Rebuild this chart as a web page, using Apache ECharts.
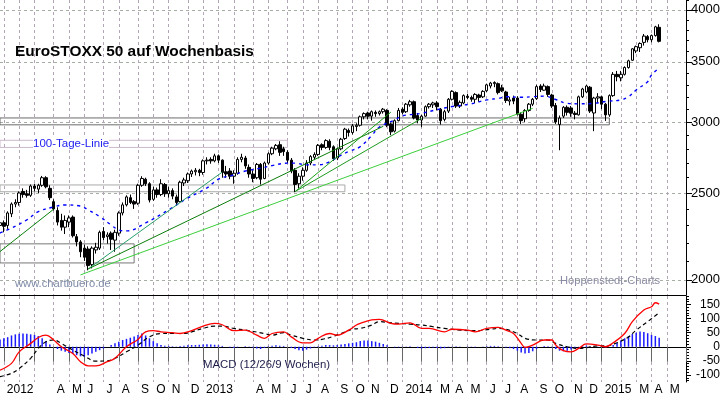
<!DOCTYPE html>
<html>
<head>
<meta charset="utf-8">
<script src="https://cdn.jsdelivr.net/npm/echarts@6/dist/echarts.min.js"></script>
<style>
  html, body { margin: 0; padding: 0; background: #fff; }
  #chart { width: 723px; height: 397px; }
</style>
</head>
<body>
<div id="chart"></div>
<script>
// Weekly candles, [open, close, low, high], one row per week (Fridays from 2011-12-30)
const candles2012 = [
  [2300,2316,2280,2330],[2316,2295,2260,2330],[2300,2375,2280,2385],[2370,2430,2350,2440],
  [2430,2440,2410,2460],[2440,2500,2420,2510],[2510,2490,2470,2530],[2495,2485,2470,2520],
  [2485,2545,2475,2555],[2545,2530,2510,2560],[2525,2550,2500,2560],[2550,2600,2540,2612],
  [2600,2540,2530,2610],[2530,2470,2455,2550],[2445,2400,2390,2460],[2390,2320,2300,2410],
  [2330,2290,2270,2370],[2290,2330,2250,2360],[2320,2345,2290,2360],[2350,2240,2230,2360],
  [2235,2205,2180,2250],[2205,2150,2120,2215],[2170,2120,2100,2190],[2165,2075,2050,2180],
  [2080,2170,2060,2180],[2160,2175,2140,2200],[2170,2260,2160,2270],[2265,2230,2215,2290],
  [2235,2245,2195,2260],[2255,2220,2160,2265],[2215,2260,2150,2275],[2255,2375,2240,2385],
  [2375,2425,2360,2440],[2425,2475,2415,2485],[2470,2440,2430,2490],[2445,2430,2400,2455],
  [2435,2550,2425,2560],[2550,2595,2540,2610],[2590,2560,2545,2600],[2560,2455,2440,2570],
  [2460,2520,2450,2540],[2520,2490,2470,2535],[2490,2560,2480,2590],[2555,2495,2475,2565],
  [2495,2515,2470,2540],[2515,2480,2460,2530],[2475,2440,2420,2490],[2445,2570,2440,2580],
  [2565,2585,2545,2600],[2580,2625,2565,2635],[2625,2645,2605,2655],[2640,2650,2615,2665],
  [2650,2635,2610,2660]
];
const candles2013 = [
  [2635,2715,2620,2725],[2715,2720,2690,2740],[2725,2715,2695,2740],[2715,2750,2705,2765],
  [2750,2720,2700,2760],[2720,2635,2600,2725],[2640,2625,2600,2680],[2645,2610,2590,2665],
  [2610,2630,2560,2650],[2630,2725,2620,2740],[2725,2740,2705,2765],[2735,2680,2660,2750],
  [2670,2625,2600,2690],[2625,2595,2570,2650],[2600,2690,2590,2700],[2690,2590,2555,2700],
  [2595,2700,2590,2710],[2700,2765,2690,2775],[2765,2805,2755,2815],[2800,2825,2790,2835],
  [2830,2775,2750,2855],[2800,2780,2750,2815],[2775,2720,2700,2790],[2720,2645,2630,2735],
  [2650,2555,2505,2665],[2560,2610,2530,2630],[2610,2650,2580,2670],[2650,2700,2640,2720],
  [2700,2745,2685,2755],[2740,2760,2720,2775],[2760,2825,2750,2835],[2830,2810,2790,2840],
  [2810,2860,2800,2870],[2855,2810,2790,2870],[2815,2730,2715,2825],[2735,2800,2720,2810],
  [2800,2870,2790,2880],[2875,2945,2865,2955],[2935,2920,2890,2950],[2920,2970,2905,2985],
  [2965,2975,2930,2990],[2975,3040,2965,3050],[3040,3065,3020,3075],[3070,3045,3020,3080],
  [3045,3080,3010,3090],[3075,3065,3040,3090],[3065,3080,3050,3090],[3080,3100,3065,3110],
  [3090,2975,2960,3100],[2985,2925,2900,2995],[2930,3010,2920,3020],[3010,3090,3005,3110]
];
const candles2014 = [
  [3100,3075,3060,3115],[3080,3140,3070,3150],[3135,3160,3120,3175],[3160,3030,3020,3170],
  [3050,3015,2990,3070],[3015,3045,2960,3055],[3045,3120,3040,3130],[3120,3140,3105,3150],
  [3135,3150,3110,3160],[3150,3120,3090,3165],[3100,3010,2980,3110],[3020,3080,3005,3095],
  [3085,3180,3070,3190],[3180,3245,3170,3255],[3235,3125,3110,3245],[3125,3155,3110,3170],
  [3150,3210,3140,3220],[3205,3195,3180,3225],[3195,3180,3160,3210],[3180,3220,3150,3230],
  [3215,3195,3160,3225],[3200,3245,3190,3255],[3250,3300,3240,3310],[3290,3315,3270,3325],
  [3310,3320,3280,3330],[3310,3235,3220,3320],[3275,3250,3240,3300],[3240,3170,3150,3250],
  [3165,3175,3130,3200],[3190,3165,3140,3210],[3190,3060,3050,3205],[3060,3010,2985,3075],
  [3025,3090,3000,3100],[3090,3140,3080,3150],[3140,3180,3125,3190],[3185,3285,3175,3300],
  [3290,3260,3240,3305],[3255,3290,3250,3310],[3285,3220,3200,3295],[3215,3125,3110,3225],
  [3130,3000,2985,3150],[2980,3030,2790,3050],[3045,3115,3030,3125],[3115,3075,3050,3130],
  [3110,3068,3040,3125],[3068,3058,3020,3085],[3055,3200,3050,3210],[3200,3265,3190,3275],
  [3240,3290,3230,3300],[3280,3085,3070,3290],[3070,3190,2930,3200],[3190,3200,3150,3230]
];
const candles2015 = [
  [3200,3140,3100,3210],[3140,3055,3008,3150],[3055,3210,3040,3220],[3210,3390,3200,3410],
  [3390,3370,3330,3420],[3360,3390,3330,3420],[3390,3450,3380,3460],[3450,3510,3440,3520],
  [3515,3620,3510,3625],[3600,3640,3580,3650],[3630,3670,3590,3680],[3680,3740,3650,3760],
  [3735,3705,3680,3750],[3705,3745,3680,3755],[3745,3830,3735,3840],[3825,3690,3680,3855]
];

// 100-day line (dashed blue), [week index, value]
const ma100 = [
  [0,2256],[3,2285],[7,2333],[10,2383],[14,2412],[17,2424],[21,2418],[23,2394],[26,2353],
  [29,2303],[31,2274],[33,2268],[38,2315],[44,2394],[49,2468],[54,2533],[57,2590],[61,2619],
  [64,2645],[68,2664],[71,2682],[75,2699],[77,2699],[80,2687],[83,2687],[86,2709],[89,2756],
  [91,2781],[94,2816],[97,2898],[99,2961],[103,3016],[105,3047],[110,3068],[114,3096],
  [118,3121],[123,3143],[127,3175],[130,3187],[132,3201],[136,3196],[139,3201],[142,3206],
  [145,3178],[148,3147],[151,3143],[155,3147],[158,3162],[162,3175],[164,3201],[166,3257],
  [169,3327],[170,3385],[172,3444]
];

// MACD (12/26/9) line and signal, [week index, value]
const macdLine = [
  [0,-83],[3,-59],[5,-18],[8,12],[10,33],[12,41],[14,24],[16,0],[19,-24],[21,-53],[23,-68],
  [25,-68],[28,-53],[30,-41],[33,0],[36,26],[38,53],[40,57],[42,53],[45,50],[47,47],[50,57],
  [53,73],[56,83],[58,78],[61,57],[64,59],[67,41],[69,30],[71,47],[74,53],[76,35],[79,14],
  [81,14],[83,30],[86,47],[88,41],[91,59],[93,77],[94,83],[97,95],[99,97],[102,83],[104,80],
  [107,85],[110,65],[112,65],[116,53],[118,62],[122,59],[124,53],[127,65],[130,69],[132,59],
  [134,47],[136,12],[137,-2],[139,6],[142,24],[144,24],[145,6],[147,-14],[149,-18],[151,-6],
  [153,10],[156,6],[158,0],[160,14],[163,47],[165,89],[168,130],[170,142],[171,156],[172,151]
];
const signalLine = [
  [0,-106],[3,-94],[5,-77],[8,-41],[10,-6],[12,18],[14,24],[16,12],[19,-12],[22,-33],[25,-51],
  [28,-50],[30,-41],[33,-18],[36,6],[39,35],[42,47],[45,47],[48,47],[50,53],[53,65],[56,73],
  [58,73],[61,65],[64,59],[69,47],[71,41],[74,50],[76,41],[79,30],[82,24],[84,26],[87,37],
  [89,47],[92,62],[94,65],[97,77],[99,89],[102,85],[104,83],[107,80],[110,77],[113,71],
  [116,65],[120,59],[124,57],[128,62],[130,65],[132,62],[135,47],[137,30],[140,24],[143,24],
  [145,12],[148,0],[151,-6],[153,-3],[156,3],[158,3],[161,14],[164,35],[166,59],[169,89],[172,121]
];
// MACD histogram, one value per week
const macdHist = [
  26,30,34,40,44,46,47,46,44,42,38,30,20,8,0,-8,-14,-18,-22,-26,-30,-34,-36,-30,-24,-18,-12,
  -6,0,6,12,18,24,28,32,36,42,47,40,30,20,12,6,4,3,2,1,3,4,5,6,6,7,
  8,9,8,7,5,3,0,-3,-4,-2,0,2,1,-3,-6,-8,-4,2,4,5,4,3,0,-4,-8,-12,-14,-10,-6,-2,2,4,6,6,5,6,
  8,10,12,14,16,20,22,22,20,18,14,10,5,0,-2,-2,
  -1,1,2,0,-4,-6,-5,-4,-3,-4,-6,-5,-2,1,2,1,0,1,-1,-2,0,1,2,3,3,2,0,-3,-5,-8,-14,-20,-24,-22,
  -16,-8,0,3,2,-2,-8,-14,-16,-14,-10,-6,-2,2,4,2,0,1,
  -1,-3,0,6,14,22,30,38,45,50,54,52,48,42,38,32
];

// Trend lines: [[week, value], [week, value]]
const trendLines = [
  [[0,2151],[14,2398]],
  [[23,2057],[58,2638]],
  [[23,2057],[100,2967]],
  [[21,2026],[139,3107]],
  [[77,2509],[102,3077]],
  [[77,2509],[110,3028]]
];
const trendColors = ['#0a800a', '#2a9d6a', '#0b7d0b', '#3ccf3c', '#16a016', '#1d9a1d'];

// Horizontal zones: [fromWeek, toWeek, low, high]
const zones = [
  [0, 159, 2978, 3031],
  [0, 90, 2508, 2552],
  [0, 35, 2089, 2194],
  [0, 75, 2810, 2862]
];
const zoneColors = ['#6c6c6c', '#a9a9a9', '#777777', '#cbb9cb'];

// Axis ticks and labels
const priceLabels = [2000, 2500, 3000, 3500, 4000];
const priceMinorTicks = [2000,2100,2200,2300,2400,2500,2600,2700,2800,2900,3000,3100,3200,3300,
  3400,3500,3600,3700,3800,3900,4000,4100];
const macdLabels = [-100, -50, 0, 50, 100, 150];
const macdMinorTicks = [-120,-110,-100,-90,-80,-70,-60,-50,-40,-30,-20,-10,0,10,20,30,40,50,60,70,
  80,90,100,110,120,130,140,150,160,170,180];
const monthLetters = ['', '', 'M', 'A', 'M', 'J', 'J', 'A', 'S', 'O', 'N', 'D'];
const hiddenMonthLabels = ['2012-03', '2013-03', '2015-06'];

// week categories (Fridays)
const weeks = [];
const start = Date.UTC(2011, 11, 30);
for (let i = 0; i < 180; i++) {
  weeks.push(new Date(start + i * 7 * 86400000).toISOString().slice(0, 10));
}
const candles = [...candles2012, ...candles2013, ...candles2014, ...candles2015];

const isMonthStart = (i) => i > 0 && weeks[i].slice(5, 7) !== weeks[i - 1].slice(5, 7);
const monthLabel = (value) => {
  if (hiddenMonthLabels.includes(value.slice(0, 7))) return '';
  const m = +value.slice(5, 7);
  return m === 1 ? value.slice(0, 4) : monthLetters[m - 1];
};

const FONT = '"Liberation Sans", Arial, sans-serif';
const vGrid = { show: true, interval: (i) => isMonthStart(i), lineStyle: { color: '#b3a6b6', type: [3, 3], width: 1 } };

const chart = echarts.init(document.getElementById('chart'));
chart.setOption({
  animation: false,
  backgroundColor: '#fff',
  textStyle: { fontFamily: FONT },
  grid: [
    { left: 0, right: 37, top: 0, height: 295, outerBoundsMode: 'none' },
    { left: 0, right: 37, top: 296, height: 86, outerBoundsMode: 'none' }
  ],
  xAxis: [
    {
      type: 'category', gridIndex: 0, data: weeks, boundaryGap: false,
      axisLine: { show: true, lineStyle: { color: '#000', width: 1 } },
      axisTick: { show: false }, axisLabel: { show: false },
      splitLine: vGrid
    },
    {
      type: 'category', gridIndex: 1, data: weeks, boundaryGap: false,
      axisLine: { show: true, lineStyle: { color: '#000', width: 1 } },
      axisTick: { show: true, interval: (i) => isMonthStart(i), length: 15, lineStyle: { color: '#666' } },
      axisLabel: {
        interval: (i) => isMonthStart(i), formatter: monthLabel, align: 'left',
        padding: [0, 0, 0, 3], margin: 2, fontSize: 12, color: '#000', fontFamily: FONT
      },
      splitLine: vGrid
    }
  ],
  yAxis: [
    {
      type: 'log', logBase: 10, gridIndex: 0, position: 'right', min: 1924, max: 4103,
      axisLine: { show: true, lineStyle: { color: '#000' } },
      axisTick: { show: true, length: 6, customValues: priceLabels, lineStyle: { color: '#000' } },
      axisLabel: {
        customValues: priceLabels, formatter: (v) => String(Math.round(v)),
        align: 'right', margin: 34, fontSize: 13, color: '#000', fontFamily: FONT
      },
      splitLine: { show: true, lineStyle: { color: '#a6aea6', type: [3, 3] } }
    },
    {
      type: 'log', logBase: 10, gridIndex: 0, position: 'right', min: 1924, max: 4103,
      axisLine: { show: false },
      axisTick: { show: true, length: 3, customValues: priceMinorTicks, lineStyle: { color: '#000' } },
      axisLabel: { show: false }, splitLine: { show: false }
    },
    {
      type: 'value', gridIndex: 1, position: 'right', min: -125, max: 180,
      axisLine: { show: true, lineStyle: { color: '#000' } },
      axisTick: { show: true, length: 5, customValues: macdLabels, lineStyle: { color: '#000' } },
      axisLabel: { customValues: macdLabels, align: 'right', margin: 34, fontSize: 12, color: '#000', fontFamily: FONT },
      splitLine: { show: false }
    },
    {
      type: 'value', gridIndex: 1, position: 'right', min: -125, max: 180,
      axisLine: { show: false },
      axisTick: { show: true, length: 3, customValues: macdMinorTicks, lineStyle: { color: '#000' } },
      axisLabel: { show: false }, splitLine: { show: false }
    }
  ],
  series: [
    {
      name: 'EuroSTOXX 50', type: 'candlestick', xAxisIndex: 0, yAxisIndex: 0,
      data: candles, barWidth: 3,
      itemStyle: { color: '#fff', color0: '#000', borderColor: '#000', borderColor0: '#000', borderWidth: 1 },
      markArea: {
        silent: true, label: { show: false },
        itemStyle: { color: 'rgba(0,0,0,0)', borderWidth: 1 },
        data: zones.map((z, k) => [
          { coord: [z[0], z[3]], itemStyle: { color: 'rgba(0,0,0,0)', borderColor: zoneColors[k], borderWidth: 1 } },
          { coord: [z[1], z[2]] }
        ])
      },
      markLine: {
        silent: true, symbol: 'none', label: { show: false },
        data: trendLines.map((t, k) => [
          { coord: t[0], lineStyle: { color: trendColors[k], width: 1, type: 'solid' } },
          { coord: t[1] }
        ])
      }
    },
    {
      name: '100-Tage-Linie', type: 'line', xAxisIndex: 0, yAxisIndex: 0,
      data: ma100, smooth: 0.4, showSymbol: false,
      lineStyle: { color: '#0000ff', width: 1.4, type: [3, 4] }, z: 3
    },
    {
      name: 'Histogramm', type: 'bar', xAxisIndex: 1, yAxisIndex: 2,
      data: macdHist, barWidth: 1.5, itemStyle: { color: '#1a1aff' }
    },
    {
      name: 'MACD', type: 'line', xAxisIndex: 1, yAxisIndex: 2,
      data: macdLine, smooth: 0.4, showSymbol: false,
      lineStyle: { color: '#ff0000', width: 1.3 }, z: 4
    },
    {
      name: 'Signal', type: 'line', xAxisIndex: 1, yAxisIndex: 2,
      data: signalLine, smooth: 0.4, showSymbol: false,
      lineStyle: { color: '#000', width: 1.2, type: [4, 3] }, z: 3
    }
  ],
  graphic: [
    { type: 'text', x: 15, y: 52, z: 100,
      style: { text: 'EuroSTOXX 50 auf Wochenbasis', fill: '#000', font: 'bold 15.4px ' + FONT, verticalAlign: 'middle' } },
    { type: 'text', x: 33, y: 144, z: 100,
      style: { text: '100-Tage-Linie', fill: '#2323f0', font: '11.5px ' + FONT, verticalAlign: 'middle', backgroundColor: '#fff' } },
    { type: 'text', x: 15, y: 284, z: 100,
      style: { text: 'www.chartbuero.de', fill: '#7d8aa6', font: '11.2px ' + FONT, verticalAlign: 'middle' } },
    { type: 'text', x: 560, y: 281, z: 100,
      style: { text: 'Hoppenstedt-Charts', fill: '#8a8aa2', font: '11.2px ' + FONT, verticalAlign: 'middle' } },
    { type: 'text', x: 203, y: 365, z: 100,
      style: { text: 'MACD (12/26/9 Wochen)', fill: '#1c1c4a', font: '11.4px ' + FONT, verticalAlign: 'middle' } }
  ]
});
</script>
</body>
</html>
